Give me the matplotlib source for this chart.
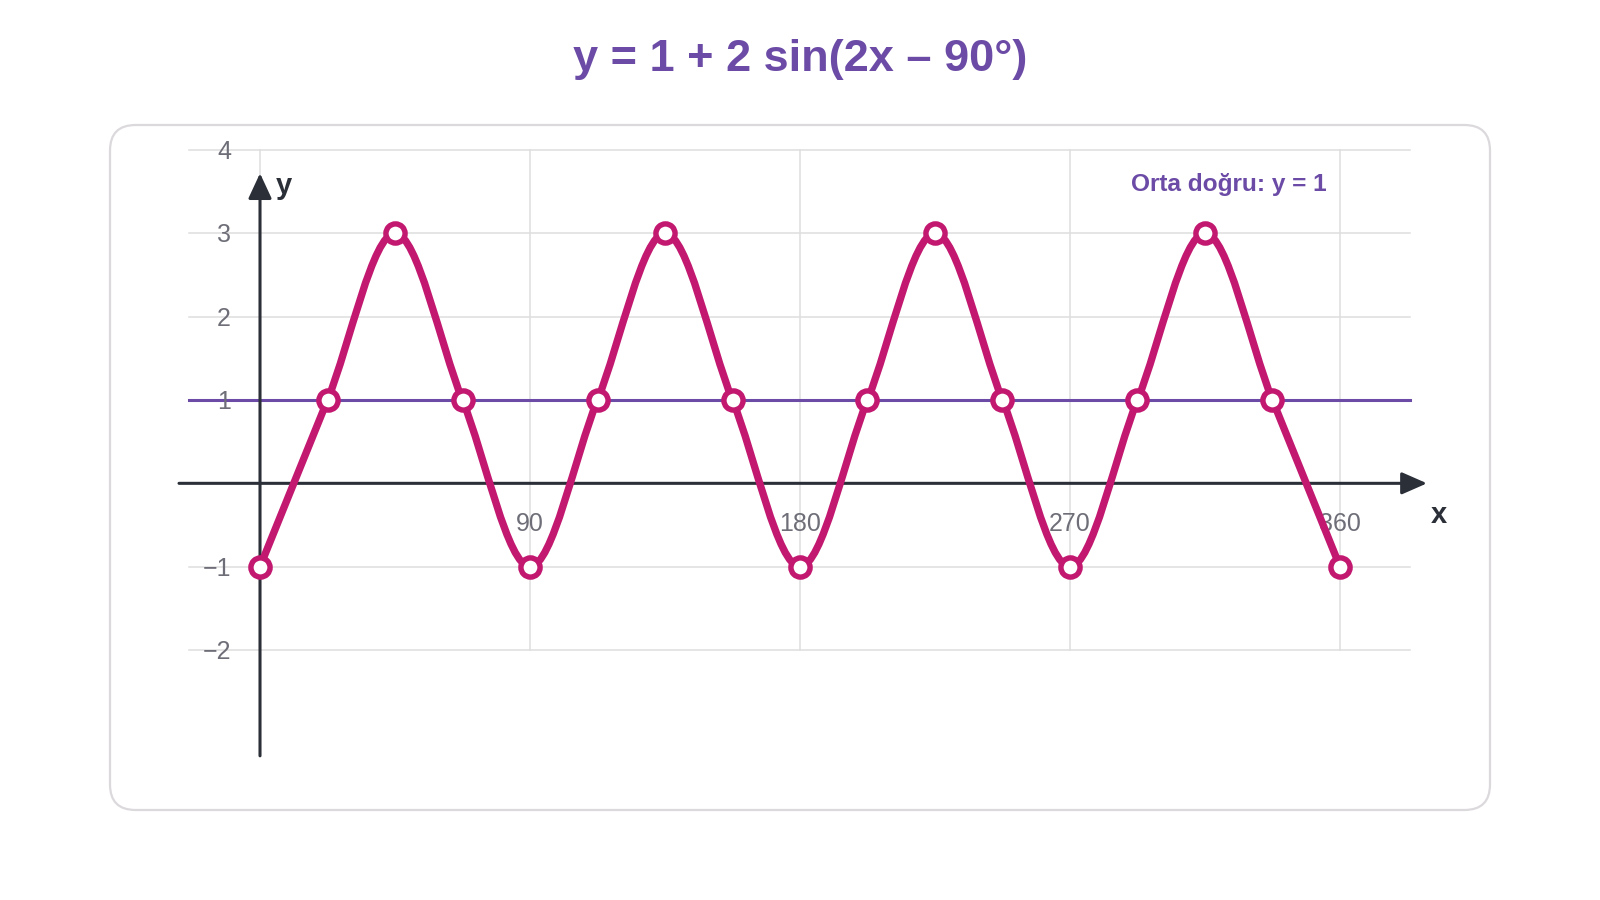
import matplotlib
matplotlib.use("Agg")
import matplotlib.pyplot as plt
from matplotlib.patches import FancyBboxPatch, PathPatch
from matplotlib.path import Path

plt.rcParams['font.family'] = ['Liberation Sans', 'DejaVu Sans']

# marked key points of y = 1 + 2 sin(...)
key_x = [0, 22.5, 45, 67.5, 90, 112.5, 135, 157.5, 180, 202.5, 225, 247.5, 270, 292.5, 315, 337.5, 360]
key_y = [-1, 1, 3, 1, -1, 1, 3, 1, -1, 1, 3, 1, -1, 1, 3, 1, -1]

midline = 1
x_ticks = [90, 180, 270, 360]
x_labels = ["90", "180", "270", "360"]
y_ticks = [4, 3, 2, 1, -1, -2]
y_labels = ["4", "3", "2", "1", "\u22121", "\u22122"]

title = "y = 1 + 2 sin(2x \u2013 90\u00b0)"
mid_label = "Orta do\u011fru: y = 1"

purple = "#6b4ba6"
magenta = "#c2186f"
dark = "#2b2f38"
grid_c = "#dedede"
tick_c = "#6e6e78"


def sgn(v):
    return -1 if v < 0 else 1


def monotone_path(xs, ys):
    # smooth monotone cubic through the points, as bezier segments
    n = len(xs)
    m = [0.0] * n
    for i in range(1, n - 1):
        h0 = xs[i] - xs[i - 1]
        h1 = xs[i + 1] - xs[i]
        s0 = (ys[i] - ys[i - 1]) / h0
        s1 = (ys[i + 1] - ys[i]) / h1
        p = (s0 * h1 + s1 * h0) / (h0 + h1)
        m[i] = (sgn(s0) + sgn(s1)) * min(abs(s0), abs(s1), 0.5 * abs(p))
    h = xs[1] - xs[0]
    m[0] = (3 * (ys[1] - ys[0]) / h - m[1]) / 2
    h = xs[-1] - xs[-2]
    m[-1] = (3 * (ys[-1] - ys[-2]) / h - m[-2]) / 2
    verts = [(xs[0], ys[0])]
    codes = [Path.MOVETO]
    for i in range(n - 1):
        h = xs[i + 1] - xs[i]
        verts += [(xs[i] + h / 3, ys[i] + m[i] * h / 3),
                  (xs[i + 1] - h / 3, ys[i + 1] - m[i + 1] * h / 3),
                  (xs[i + 1], ys[i + 1])]
        codes += [Path.CURVE4] * 3
    return Path(verts, codes)


fig = plt.figure(figsize=(16, 9), dpi=100)

# card behind the plot
card = FancyBboxPatch((110 / 1600, 1 - 810 / 900), 1380 / 1600, 685 / 900,
                      boxstyle="round,pad=0,rounding_size=0.016",
                      transform=fig.transFigure, facecolor="white",
                      edgecolor="#dcd9dc", linewidth=1.6, mutation_aspect=16 / 9,
                      zorder=-5)
fig.patches.append(card)

ax = fig.add_axes([0, 0, 1, 1])
ax.set_xlim(-86.67, 446.67)
ax.set_ylim(-5.0, 5.8)
ax.axis("off")
ax.patch.set_alpha(0)

x_lo, x_hi = -23.67, 383.3
# grid
for yv in y_ticks:
    ax.plot([x_lo, x_hi], [yv, yv], color=grid_c, lw=1.1, zorder=1)
for xv in [0] + x_ticks:
    ax.plot([xv, xv], [-2, 4], color=grid_c, lw=1.1, zorder=1)

# midline
ax.plot([x_lo, x_hi], [midline, midline], color=purple, lw=2.2, zorder=2)

# axes with arrows
ax.annotate("", xy=(389, 0), xytext=(-27, 0),
            arrowprops=dict(arrowstyle="-|>,head_length=1.55,head_width=0.68",
                            color=dark, lw=2.2, shrinkA=0, shrinkB=0), zorder=3)
ax.annotate("", xy=(0, 3.72), xytext=(0, -3.27),
            arrowprops=dict(arrowstyle="-|>,head_length=1.55,head_width=0.72",
                            color=dark, lw=2.2, shrinkA=0, shrinkB=0), zorder=3)

ax.text(393, -0.38, "x", fontsize=21, fontweight="bold", color=dark, ha="center", va="center")
ax.text(8, 3.57, "y", fontsize=21, fontweight="bold", color=dark, ha="center", va="center")

# tick labels
for yv, lab in zip(y_ticks, y_labels):
    ax.text(-9.7, yv - 0.025, lab, fontsize=18, color=tick_c, ha="right", va="center", zorder=2)
for xv, lab in zip(x_ticks, x_labels):
    ax.text(xv, -0.49, lab, fontsize=18, color=tick_c, ha="center", va="center", zorder=2)

# curve and points
curve = PathPatch(monotone_path(key_x, key_y), fill=False, edgecolor=magenta, lw=5.3,
                  capstyle="round", joinstyle="round", zorder=4)
ax.add_patch(curve)
ax.plot(key_x, key_y, "o", markersize=13.8, markerfacecolor="white",
        markeredgecolor=magenta, markeredgewidth=3.9, zorder=5)

ax.text(355.7, 3.59, mid_label, fontsize=17.6, fontweight="bold", color=purple,
        ha="right", va="center")

fig.text(0.5, 1 - 60 / 900, title, fontsize=32.5, fontweight="bold", color=purple,
         ha="center", va="center")

fig.savefig("out.png", dpi=100)
